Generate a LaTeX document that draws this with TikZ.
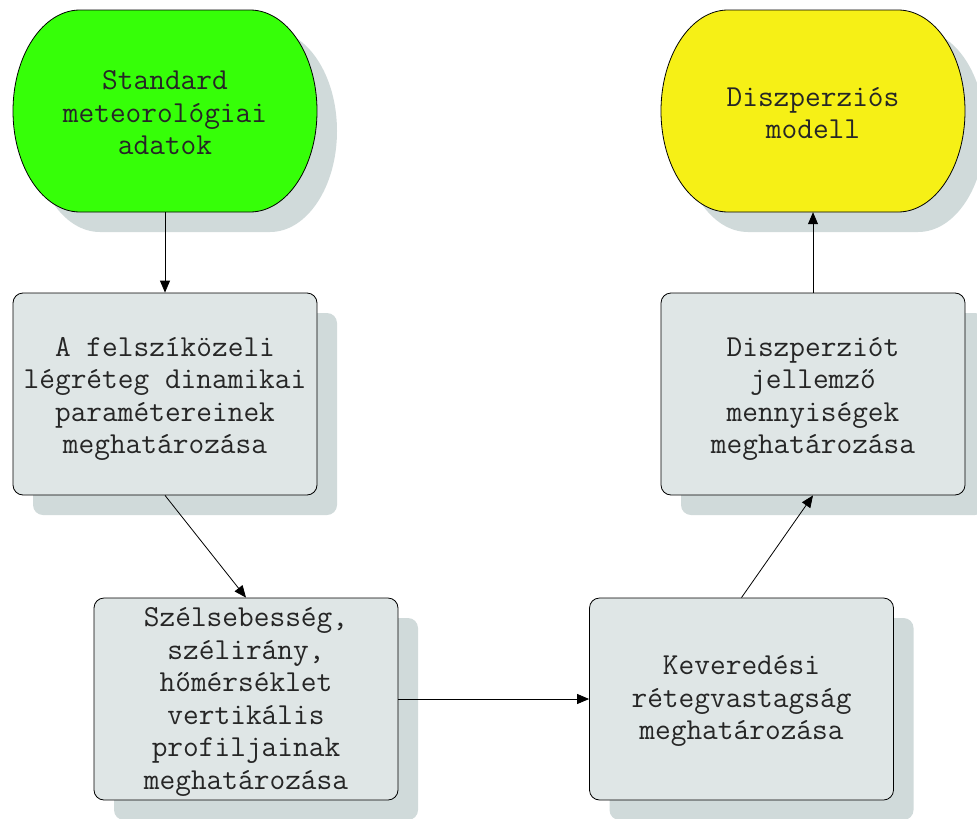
\documentclass[tikz,border=0pt]{standalone}
\usepackage{fontspec}
\usetikzlibrary{arrows.meta,shadows}
\definecolor{termgreen}{RGB}{54,255,8}
\definecolor{termyellow}{RGB}{246,240,22}
\definecolor{boxfill}{RGB}{223,230,230}
\definecolor{shadowc}{RGB}{208,218,218}

% terminator outline centred at (#1,#2): flat top and bottom, elliptic ends
\newcommand\termpath[2]{%
  (#1-85,#2-101) -- (#1+85,#2-101)
  arc[start angle=-90,end angle=90,x radius=67,y radius=101]
  -- (#1-85,#2+101)
  arc[start angle=90,end angle=270,x radius=67,y radius=101] -- cycle}

\begin{document}
\begin{tikzpicture}[x=1pt,y=-1pt,
  lbl/.style={align=center,font=\ttfamily\fontsize{30.5}{32.5}\selectfont,
    text=black!85,inner sep=0pt},
  frame/.style={minimum width=304pt,minimum height=202pt,inner sep=0pt},
  stepbox/.style={frame,draw,line width=0.8pt,rounded corners=10pt,fill=boxfill,
    general shadow={shadow xshift=20pt,shadow yshift=-20pt,fill=shadowc,opacity=1}},
  termline/.style={draw,line width=0.8pt},
  arr/.style={line width=0.8pt,-{Triangle[length=12pt,width=10pt]}}]
\useasboundingbox (0,0) rectangle (977,819);

% start and end terminators with their shadows
\fill[shadowc] \termpath{185}{131};
\path[termline,fill=termgreen] \termpath{165}{111};
\node[frame] (start) at (165,111) {};
\node[lbl] (startt) at (165,113) {Standard\\meteorológiai\\adatok};

\fill[shadowc] \termpath{833}{131};
\path[termline,fill=termyellow] \termpath{813}{111};
\node[frame] (model) at (813,111) {};
\node[lbl] (modelt) at (813,113) {Diszperziós\\modell};

% process steps
\node[stepbox] (dyn) at (165,394) {};
\node[stepbox] (prof) at (246,699) {};
\node[stepbox] (mix) at (741.5,699) {};
\node[stepbox] (disp) at (813,394) {};

\node[lbl] (dynt) at (165,399)
  {A felszíközeli\\légréteg dinamikai\\paramétereinek\\meghatározása};
\node[lbl] (proft) at (246,702)
  {Szélsebesség,\\szélirány,\\hőmérséklet\\vertikális\\profiljainak\\meghatározása};
\node[lbl] (mixt) at (741.5,701)
  {Keveredési\\rétegvastagság\\meghatározása};
\node[lbl] (dispt) at (813,399)
  {Diszperziót\\jellemző\\mennyiségek\\meghatározása};

% flow
\draw[arr] (start.south) -- (dyn.north);
\draw[arr] (dyn.south) -- (prof.north);
\draw[arr] (prof.east) -- (mix.west);
\draw[arr] (mix.north) -- (disp.south);
\draw[arr] (disp.north) -- (model.south);
\end{tikzpicture}
\end{document}
